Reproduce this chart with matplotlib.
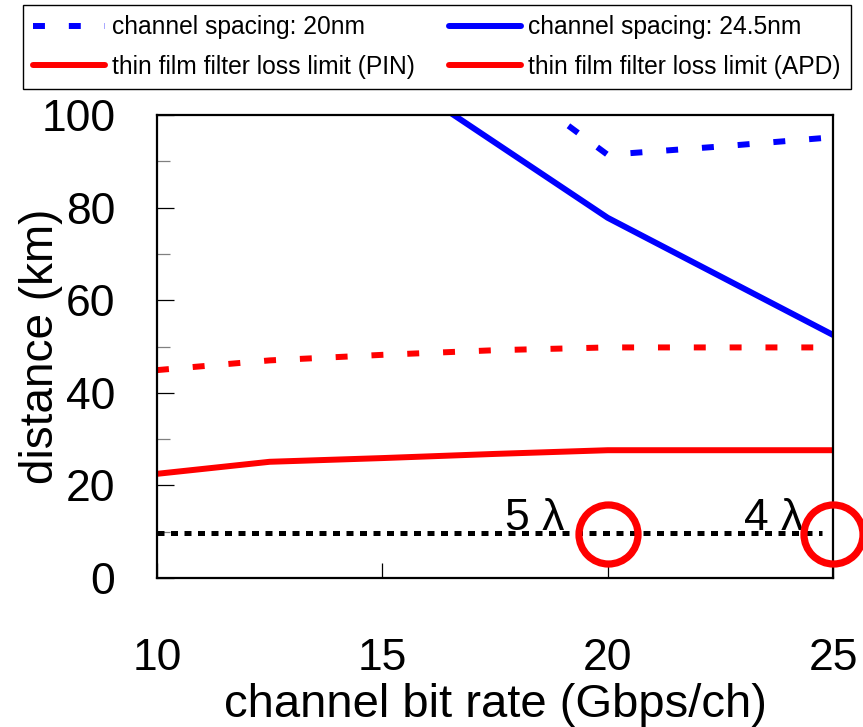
import matplotlib
matplotlib.use("Agg")
import matplotlib.pyplot as plt
from matplotlib.lines import Line2D
from matplotlib.ticker import MultipleLocator

plt.rcParams['font.family'] = ['Liberation Sans', 'DejaVu Sans']

## data
rate_20nm = [15, 17.5, 20, 22.5, 25]
dist_20nm = [127, 109.4, 91.4, 93.2, 95.2]        # channel spacing 20nm (dashed)

rate_245nm = [15, 20, 25]
dist_245nm = [110.3, 77.8, 52.5]                  # channel spacing 24.5nm (solid)

rate_film = [10, 12.5, 15, 17.5, 20, 22.5, 25]
dist_apd = [44.9, 47.0, 48.2, 49.2, 49.8, 49.8, 49.8]   # thin film limit APD (dashed)
dist_pin = [22.5, 25.1, 25.9, 26.8, 27.6, 27.6, 27.6]   # thin film limit PIN (solid)

target_rate = [10, 24.75]
target_dist = [9.7, 9.7]                          # dotted target line

mark_rate = [20, 25]
mark_dist = [9.5, 9.5]
mark_text = ['5 λ', '4 λ']
text_pos = [(19.05, 10.4), (24.35, 10.4)]

labels = ['channel spacing: 20nm', 'channel spacing: 24.5nm',
          'thin film filter loss limit (PIN)', 'thin film filter loss limit (APD)']

W, H = 863, 727
fig = plt.figure(figsize=(W/100, H/100), dpi=100)
ax = fig.add_axes([157/W, 1-578/H, (833-157)/W, (578-115)/H])

lw = 4.3
dash = (2.0, 4.0)
ax.plot(rate_20nm, dist_20nm, color='blue', lw=lw, dashes=dash, dash_capstyle='butt')
ax.plot(rate_245nm, dist_245nm, color='blue', lw=lw, solid_capstyle='round')
ax.plot(rate_film, dist_apd, color='red', lw=lw, dashes=dash, dash_capstyle='butt')
ax.plot(rate_film, dist_pin, color='red', lw=lw, solid_capstyle='round')
ax.plot(target_rate, target_dist, color='black', lw=3.6, dashes=(1.4, 1.3), dash_capstyle='butt')
ax.plot(mark_rate, mark_dist, 'o', ms=42.5, mfc='none', mec='red', mew=5.2, clip_on=False, zorder=5)

for t, (x, y) in zip(mark_text, text_pos):
    ax.text(x, y, t, fontsize=32, ha='right', va='baseline')

ax.set_xlim(10, 25)
ax.set_ylim(0, 100)
ax.set_xticks([10, 15, 20, 25])
ax.set_yticks([0, 20, 40, 60, 80, 100])
ax.yaxis.set_minor_locator(MultipleLocator(10))
ax.tick_params(axis='x', direction='in', length=11, width=0.9, pad=43, labelsize=32, top=False)
ax.tick_params(axis='y', which='major', direction='in', length=12, width=0.9, pad=30, labelsize=32, right=False)
ax.tick_params(axis='y', which='minor', direction='in', length=9, width=0.9, color='gray', right=False)
for s in ax.spines.values():
    s.set_linewidth(1.6)

ax.set_xlabel('channel bit rate (Gbps/ch)', fontsize=34, labelpad=3)
ax.set_ylabel('distance (km)', fontsize=33)
ax.yaxis.set_label_coords(-0.139, 0.5)

handles = [Line2D([], [], color='blue', lw=lw, dashes=dash, dash_capstyle='butt'),
           Line2D([], [], color='red', lw=lw, solid_capstyle='round'),
           Line2D([], [], color='blue', lw=lw, solid_capstyle='round'),
           Line2D([], [], color='red', lw=lw, solid_capstyle='round')]
leg = fig.legend(handles, [labels[0], labels[2], labels[1], labels[3]], ncol=2,
                 loc='upper left', bbox_to_anchor=(23/W, 1-5/H), fontsize=17.7,
                 handlelength=2.9, handletextpad=0.3, columnspacing=1.4,
                 labelspacing=0.62, borderpad=0.42, borderaxespad=0,
                 fancybox=False, framealpha=1, edgecolor='black')
leg.get_frame().set_linewidth(1.0)

fig.savefig('out.png', dpi=100)
